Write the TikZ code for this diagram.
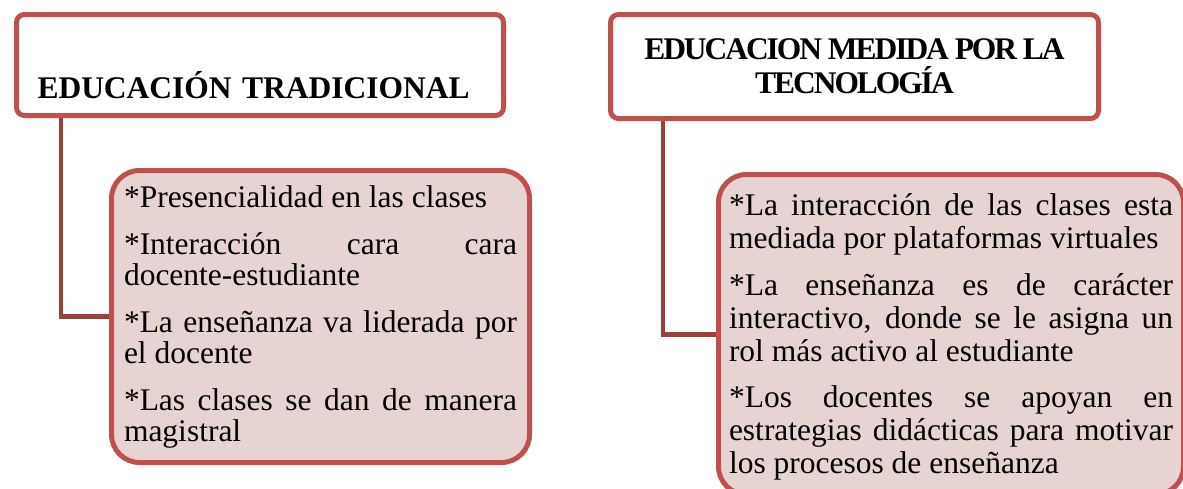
\documentclass[tikz,border=0pt]{standalone}
\usepackage{fontspec}
\setmainfont{Liberation Serif}
\usetikzlibrary{backgrounds}
\definecolor{boxred}{HTML}{C0504D}
\definecolor{linkred}{HTML}{9E3F3C}
\definecolor{boxpink}{HTML}{E8D3D3}

\begin{document}
\begin{tikzpicture}[
    x=1pt, y=-1pt,
    head_box/.style={draw=boxred, line width=5pt, fill=white, rounded corners=8pt,
        inner xsep=0pt, inner ysep=0pt, anchor=north west,
        font=\bfseries\fontsize{31.5}{34}\selectfont},
    body_box/.style={draw=boxred, line width=5pt, fill=boxpink, rounded corners=28pt,
        inner ysep=0pt, anchor=north west, align=justify,
        execute at begin node={\parindent=0pt \hyphenpenalty=10000
            \exhyphenpenalty=10000 \tolerance=10000}},
    link_line/.style={draw=linkred, line width=4.5pt}
]
    \useasboundingbox (0,0) rectangle (1183,488);

    % Headers
    \node[head_box, minimum width=487pt, text width=445pt, align=left,
        text height=84pt, text depth=17pt] (lhead) at (14,12)
        {EDUCACIÓN TRADICIONAL};
    \node[head_box, minimum width=488pt, align=center,
        font=\bfseries\fontsize{31.5}{34}\selectfont\addfontfeatures{LetterSpace=-6.5}]
        (rhead) at (608,12)
        {\rule{0pt}{45pt}EDUCACION MEDIDA POR LA\\TECNOLOGÍA\rule[-25pt]{0pt}{25pt}};

    % Lists
    \node[body_box, text width=393pt, inner xsep=12.5pt,
        font=\fontsize{31.5}{31.5}\selectfont\setlength{\parskip}{15pt}] (lbody) at (109,168)
        {\rule{0pt}{37pt}*Presencialidad en las clases\par
         *Interacción cara cara docente-estudiante\par
         *La enseñanza va liderada por el docente\par
         *Las clases se dan de manera magistral\rule[-21pt]{0pt}{21pt}};
    \node[body_box, text width=444pt, inner xsep=10.5pt,
        font=\fontsize{31.5}{33}\selectfont\setlength{\parskip}{13.5pt}] (rbody) at (716,172)
        {\rule{0pt}{41pt}*La interacción de las clases esta mediada por plataformas virtuales\par
         *La enseñanza es de carácter interactivo, donde se le asigna un rol más activo al estudiante\par
         *Los docentes se apoyan en estrategias didácticas para motivar los procesos de enseñanza\rule[-21pt]{0pt}{21pt}};

    % Connectors
    \begin{scope}[on background layer]
        \draw[link_line] ([xshift=47pt]lhead.south west) |- (lbody.west);
        \draw[link_line] ([xshift=55pt]rhead.south west) |- (rbody.west);
    \end{scope}
\end{tikzpicture}
\end{document}
